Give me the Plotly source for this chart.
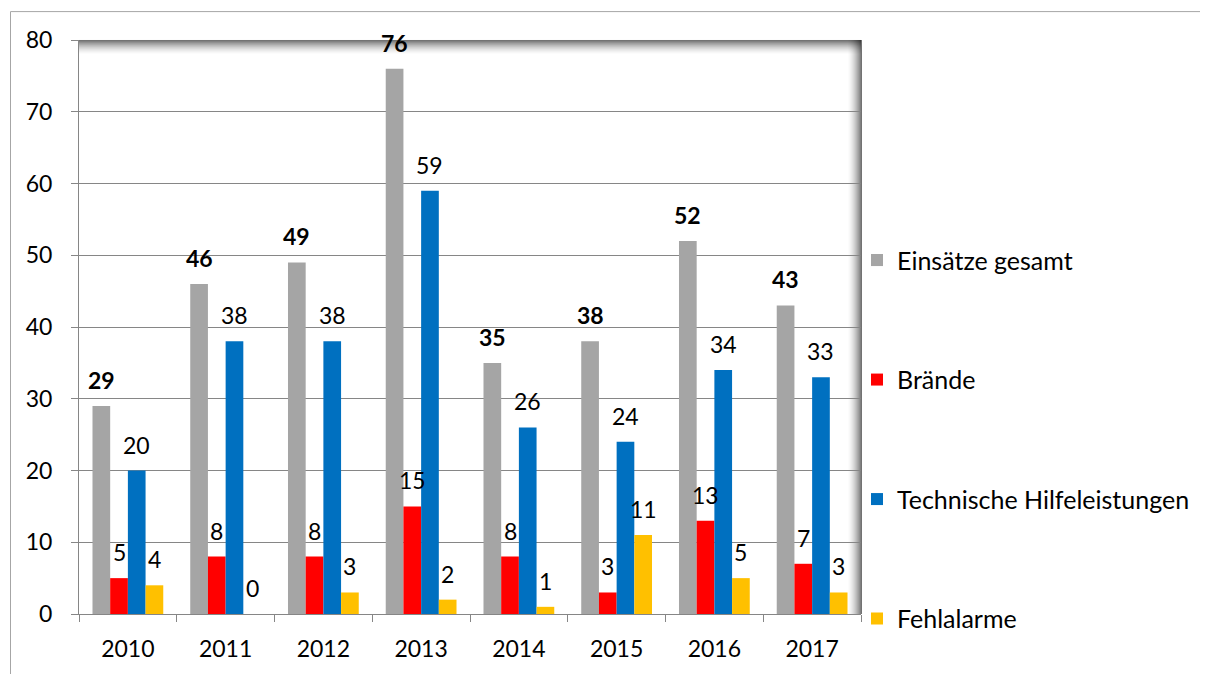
import plotly.graph_objects as go

# Einsatzstatistik 2010 - 2017
years = ["2010", "2011", "2012", "2013", "2014", "2015", "2016", "2017"]
einsaetze = [29, 46, 49, 76, 35, 38, 52, 43]
braende = [5, 8, 8, 15, 8, 3, 13, 7]
thl = [20, 38, 38, 59, 26, 24, 34, 33]
fehlalarme = [4, 0, 3, 2, 1, 11, 5, 3]

series_names = ["Einsätze gesamt", "Brände", "Technische Hilfeleistungen", "Fehlalarme"]
series_values = [einsaetze, braende, thl, fehlalarme]
colors = ["#A5A5A5", "#FF0000", "#0070C0", "#FFC000"]

FONT = "Lato"
OFF = 8  # page body margin
W, H = 1208 - OFF, 674 - OFF
# plot area in page pixels: x 79..861, y 40..616
L, T = 79 - OFF, 40 - OFF
R, B = W - (861 - OFF), H - (616 - OFF)
plot_w = W - L - R
plot_h = H - T - B
bargap = 0.276
bar_w = plot_w / len(years) * (1 - bargap) / len(series_values)


def px_x(p):
    # page pixel -> paper
    return (p - OFF - L) / plot_w


def px_y(p):
    return (H - B - (p - OFF)) / plot_h


fig = go.Figure()

for i, (name, vals) in enumerate(zip(series_names, series_values)):
    fig.add_trace(go.Bar(
        x=years, y=vals, name=name,
        marker=dict(color=colors[i], line=dict(width=0)),
        legendgroup=name,
        hoverinfo="x+y+name",
    ))
    # data labels above each bar
    for j, v in enumerate(vals):
        fig.add_annotation(
            x=j, y=v, text=f"<b>{v}</b>" if i == 0 else str(v),
            showarrow=False, xshift=(i - 1.5) * bar_w, yshift=26,
            yanchor="middle", font=dict(family=FONT, size=23, color="black"),
        )

shapes = []
# shadow along top and right edge of plot area
n = 14
for k in range(n):
    op = 0.55 * (1 - k / n) ** 1.6
    shapes.append(dict(type="line", xref="paper", yref="paper",
                       x0=0, x1=1, y0=px_y(40.5 + k), y1=px_y(40.5 + k),
                       line=dict(color="black", width=1), opacity=op, layer="below"))
    shapes.append(dict(type="line", xref="paper", yref="paper",
                       x0=px_x(861.5 - k), x1=px_x(861.5 - k), y0=0, y1=1,
                       line=dict(color="black", width=1), opacity=op, layer="below"))
# outer chart border
shapes.append(dict(type="rect", xref="paper", yref="paper",
                   x0=px_x(10.5), x1=px_x(1220), y0=px_y(11.5), y1=px_y(690),
                   line=dict(color="#A6A6A6", width=1)))

fig.update_layout(
    width=W, height=H,
    margin=dict(l=L, r=R, t=T, b=B),
    paper_bgcolor="white", plot_bgcolor="white",
    barmode="group", bargap=bargap, bargroupgap=0,
    font=dict(family=FONT, size=23, color="black"),
    shapes=shapes,
    showlegend=True,
    legend=dict(x=px_x(857), xanchor="left", y=px_y(238), yanchor="top",
                font=dict(family=FONT, size=25), tracegroupgap=84,
                bgcolor="rgba(0,0,0,0)"),
    xaxis=dict(type="category", range=[-0.5, 7.5], tickson="boundaries",
               ticks="outside", ticklen=7, tickangle=0,
               tickcolor="#868686", showline=True, linecolor="#868686",
               showgrid=False, ticklabelstandoff=14),
    yaxis=dict(range=[0, 80], dtick=10, ticks="outside", ticklen=7,
               tickcolor="#868686", showline=True, linecolor="#868686",
               showgrid=True, gridcolor="#868686", gridwidth=1, zeroline=False,
               ticklabelstandoff=14),
)

fig.write_html("out.html")
